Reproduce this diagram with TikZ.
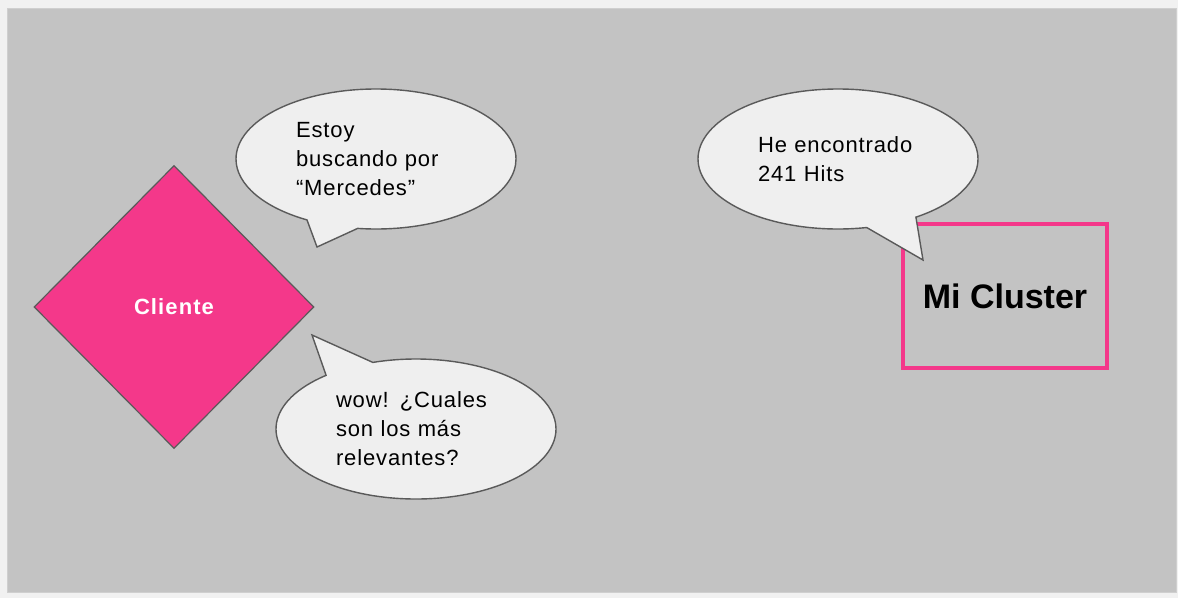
\documentclass[tikz,border=0pt]{standalone}
\usepackage{fontspec}
\setmainfont{Liberation Sans}
\usetikzlibrary{shapes.geometric,shapes.callouts}
\definecolor{rosa}{HTML}{F4388A}
\definecolor{fondo}{HTML}{C3C3C3}
\definecolor{margen}{HTML}{F1F1F1}
\definecolor{globo}{HTML}{EFEFEF}
\definecolor{borde}{HTML}{5A5A5A}

\begin{document}
\begin{tikzpicture}[x=1pt,y=-1pt,
    block_diamond/.style ={diamond, draw=borde, line width=1.2pt, fill=rosa,
      text=white, font=\fontsize{22}{26}\selectfont\bfseries\addfontfeature{LetterSpace=5},
      minimum width=280pt, minimum height=283pt, inner sep=0pt},
    block_cluster/.style ={rectangle, draw=rosa, line width=4pt, fill=none,
      font=\fontsize{34}{40}\selectfont\bfseries,
      minimum width=204pt, minimum height=144pt, inner sep=0pt},
    bubble/.style ={ellipse callout, draw=borde, line width=1.4pt, fill=globo,
      callout pointer arc=22, align=left, text width=160pt,
      font=\fontsize{22}{29}\selectfont\addfontfeature{LetterSpace=4},
      minimum width=280pt, minimum height=140pt, inner sep=0pt}]
    % background
    \useasboundingbox (0,0) rectangle (1178,598);
    \fill[margen] (0,0) rectangle (1178,598);
    \draw[fill=fondo, draw=fondo!80!white, line width=1pt] (7,8) rectangle (1176,592);
    % client and cluster
    \node [block_diamond] (cliente) at (174,307) {Cliente};
    \node [block_cluster] (cluster) at (1005,296) {Mi Cluster};
    % speech bubbles
    \node [bubble, callout absolute pointer={(317,247)}] (pregunta) at (376,159)
      {Estoy\\buscando por\\“Mercedes”};
    \node [bubble, callout absolute pointer={(312,335)}] (relevantes) at (416,429)
      {wow! ¿Cuales\\son los más\\relevantes?};
    \node [bubble, callout absolute pointer={(923,260)}] (hits) at (838,159)
      {He encontrado\\241 Hits};
\end{tikzpicture}
\end{document}
